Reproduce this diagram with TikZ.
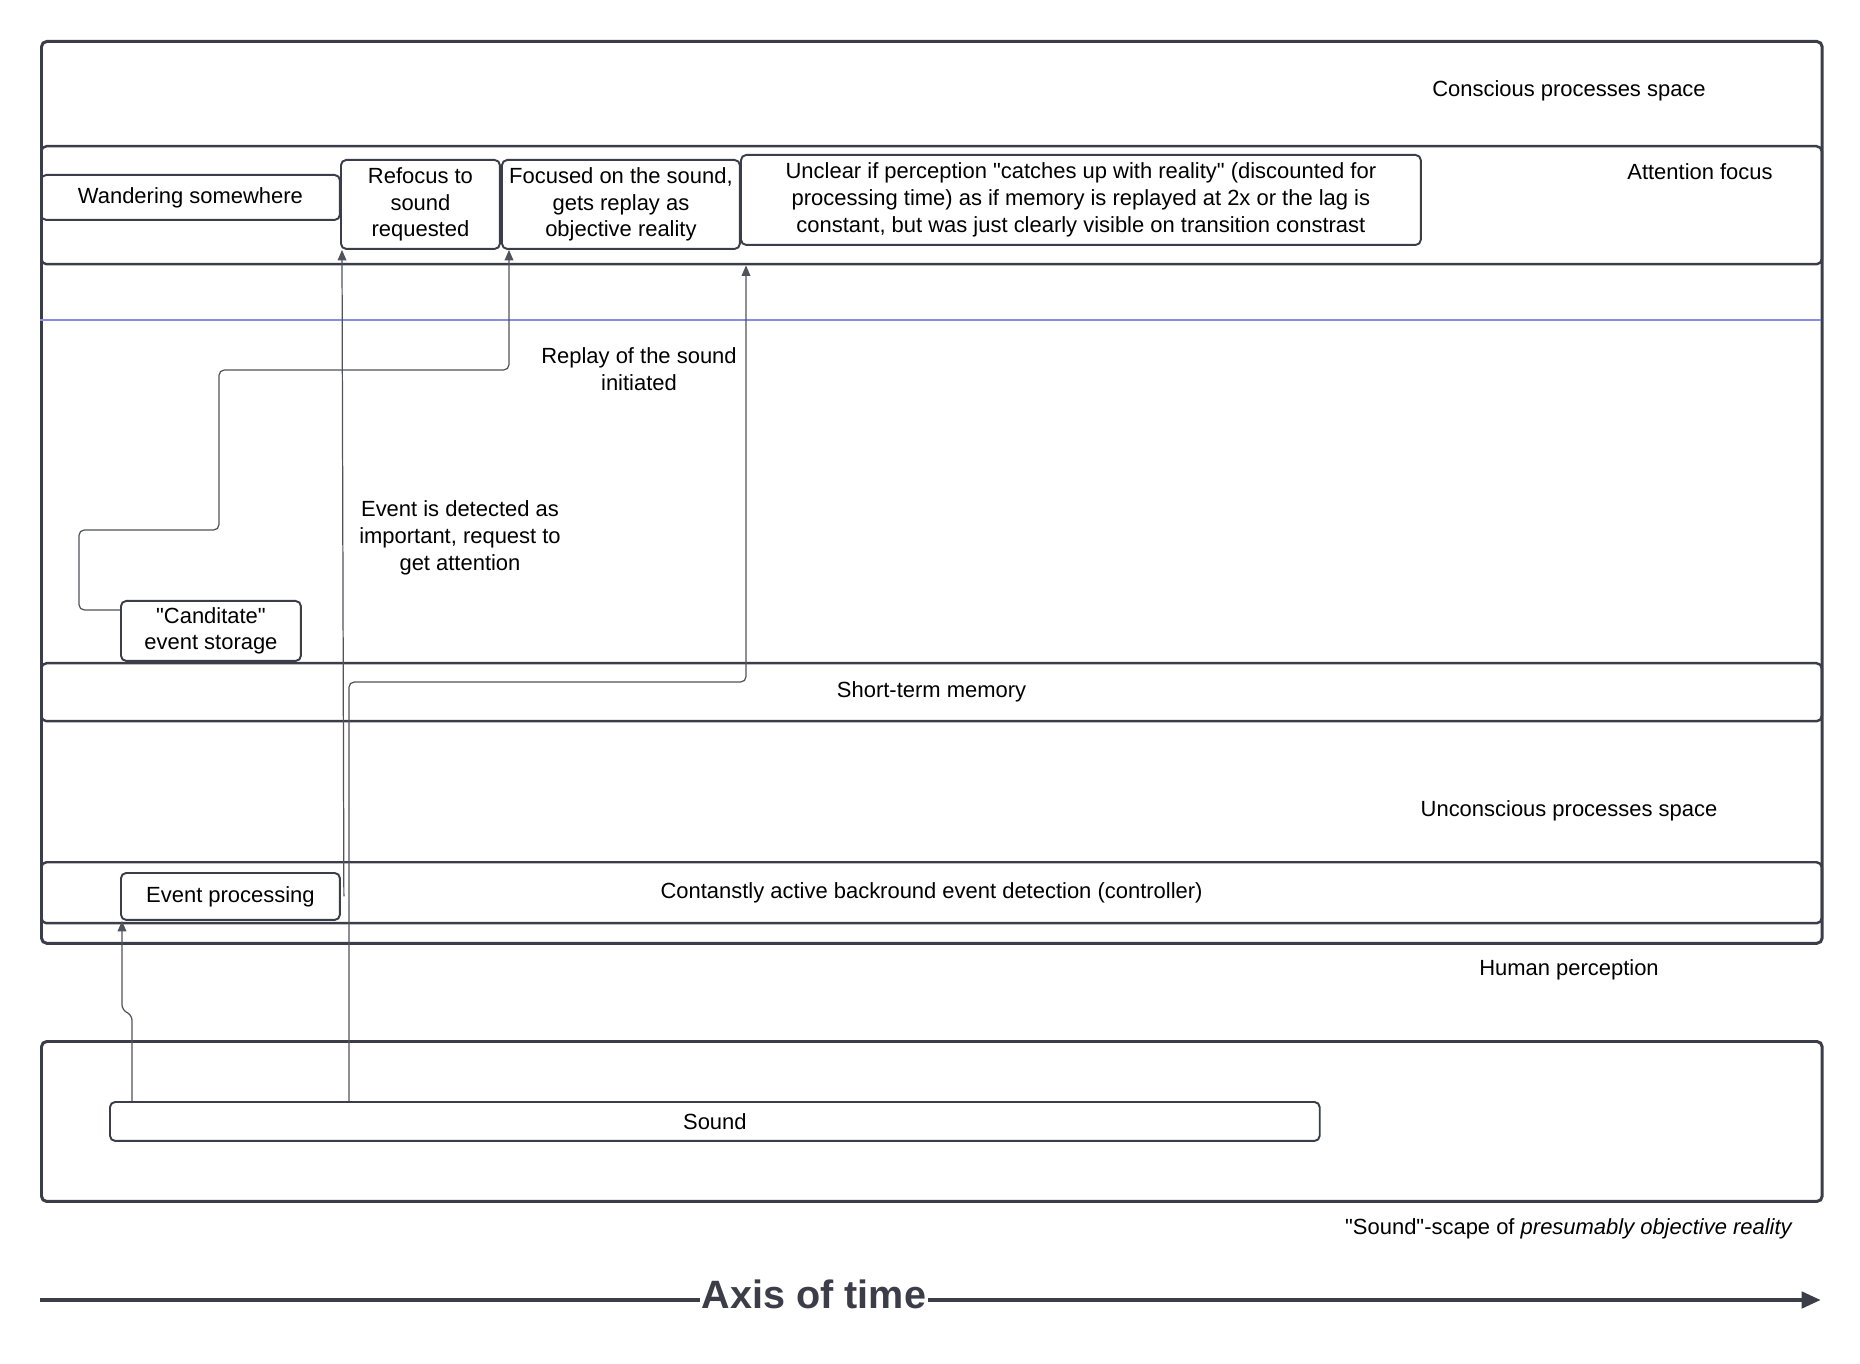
\documentclass[tikz,border=0pt]{standalone}
\usepackage{fontspec}
\setmainfont{Liberation Sans}[Ligatures=TeXOff]
\usepackage{tikz}
\usetikzlibrary{positioning, arrows.meta, calc}
\definecolor{lucid}{RGB}{59, 62, 72}
\definecolor{flowgray}{RGB}{80, 83, 92}
\definecolor{splitblue}{RGB}{138, 138, 226}
\newcommand{\lbl}{\fontsize{12.5pt}{15.2pt}\selectfont}
\newcommand{\dq}{\char34}
\tikzset{
  zone/.style={
    draw=lucid, line width=1.7pt, rounded corners=3pt,
    anchor=north west, minimum width=35.62cm, inner sep=0pt,
  },
  lane/.style={
    draw=lucid, line width=1.4pt, rounded corners=3pt,
    anchor=north west, minimum width=35.62cm, inner sep=0pt,
    font=\lbl,
  },
  evbox/.style={
    draw=lucid, line width=1.1pt, rounded corners=3pt,
    anchor=north west, align=center, inner sep=0pt, font=\lbl,
  },
  txt/.style={align=center, inner sep=0pt, font=\lbl},
  flow/.style={draw=flowgray, line width=0.7pt, rounded corners=3pt,
    -{Triangle[length=6pt, width=5pt]}},
  split/.style={draw=splitblue, line width=0.7pt},
}

\begin{document}
\begin{tikzpicture}[x=0.02cm, y=-0.02cm]
\useasboundingbox (0,0) rectangle (1860,1364);

% Zones
\node[zone, minimum height=18.04cm] (conc) at (40,40) {};
\node[lane, minimum height=2.36cm] (att) at (40,145) {};
\node[lane, minimum height=1.16cm] (stm) at (40,662) {Short-term memory};
\node[lane, minimum height=1.22cm] (ctrl) at (40,861) {Contanstly active backround event detection (controller)};
\node[zone, minimum height=3.2cm] (world) at (40,1040) {};
\draw[split] (40,320) -- (1821,320);

% Zone labels
\node[txt] (lconc) at (1569,91) {Conscious processes space};
\node[txt] (latt) at (1700,172) {Attention focus};
\node[txt] (lunc) at (1569,811) {Unconscious processes space};
\node[txt] (lhum) at (1569,970) {Human perception};
\node[txt] (lworld) at (1569,1229) {\dq Sound\dq-scape of \textit{presumably objective reality}};

% Events
\node[evbox, minimum width=5.98cm, minimum height=0.9cm] (wander) at (40,174) {Wandering somewhere};
\node[evbox, minimum width=3.18cm, minimum height=1.78cm] (refocus) at (340,159) {Refocus to\\sound\\requested};
\node[evbox, minimum width=4.76cm, minimum height=1.78cm] (focused) at (501,159) {Focused on the sound,\\gets replay as\\objective reality};
\node[evbox, minimum width=13.6cm, minimum height=1.8cm] (unclear) at (740,154) {Unclear if perception \dq catches up with reality\dq{} (discounted for\\processing time) as if memory is replayed at 2x or the lag is\\constant, but was just clearly visible on transition constrast};
\node[evbox, minimum width=3.6cm, minimum height=1.2cm] (cand) at (120,600) {\dq Canditate\dq\\event storage};
\node[evbox, minimum width=4.38cm, minimum height=0.94cm] (eproc) at (120,872) {Event processing};
\node[evbox, minimum width=24.2cm, minimum height=0.78cm] (sound) at (109,1101) {Sound};

\node[txt] (lreplay) at (639,369) {Replay of the sound\\initiated};
\node[txt] (ldetect) at (460,538) {Event is detected as\\important, request to\\get attention};

% Connectors
\coordinate (uin) at ([xshift=0.12cm]att.south -| unclear.west);
\draw[flow] ([xshift=0.46cm]sound.north west) -- ++(0,-86) -- ++(-10,-5) -- ([xshift=0.04cm]eproc.south west);
\draw[flow] ([xshift=0.06cm]eproc.east) -- ([xshift=0.04cm]refocus.south west);
\draw[flow] ([yshift=-0.2cm]cand.north west) -| (79,530) -| (219,370) -| ([xshift=0.16cm]focused.south west);
\draw[flow] ([xshift=4.8cm]sound.north west) -- ++(0,-419) -| (uin);

% Time axis
\coordinate (t0) at (40,1300);
\coordinate (t1) at (1821,1300);
\draw[draw=lucid, line width=2.8pt, -{Triangle[length=11pt, width=9pt]}] (t0) -- (t1);
\node[fill=white, inner sep=1pt, text=lucid, font=\fontsize{22.5pt}{27pt}\selectfont\bfseries] (laxis) at (814,1294) {Axis of time};

\end{tikzpicture}
\end{document}
